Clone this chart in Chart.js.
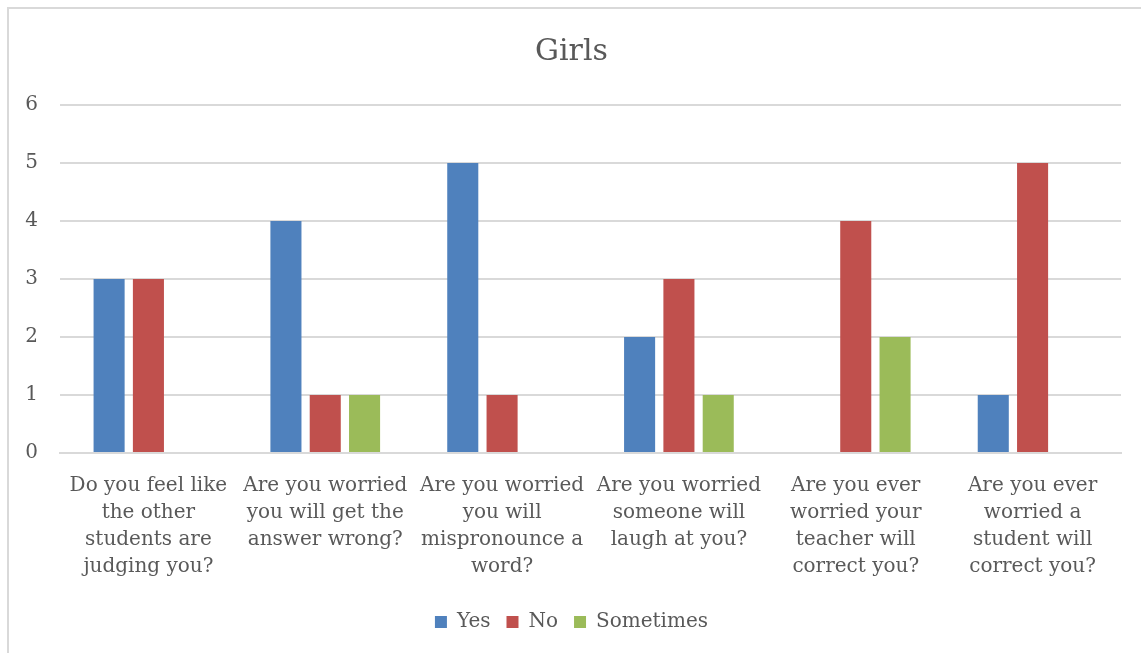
<!DOCTYPE html>
<html>
<head>
<meta charset="utf-8">
<script src="https://cdn.jsdelivr.net/npm/chart.js@4/dist/chart.umd.min.js"></script>
<style>
  html, body { margin: 0; padding: 0; background: #fff; overflow: hidden; }
  #frame { position: absolute; left: 7px; top: 7px; width: 1200px; height: 700px; border: 2px solid #d9d9d9; box-sizing: border-box; }
  #wrap { position: absolute; left: 0; top: 0; width: 1141px; height: 653px; }
</style>
</head>
<body>
<div id="frame"></div>
<div id="wrap"><canvas id="c" width="1141" height="653"></canvas></div>
<script>
const categories = [
  ["Do you feel like", "the other", "students are", "judging you?"],
  ["Are you worried", "you will get the", "answer wrong?"],
  ["Are you worried", "you will", "mispronounce a", "word?"],
  ["Are you worried", "someone will", "laugh at you?"],
  ["Are you ever", "worried your", "teacher will", "correct you?"],
  ["Are you ever", "worried a", "student will", "correct you?"]
];
const seriesNames = ["Yes", "No", "Sometimes"];
const yesValues = [3, 4, 5, 2, 0, 1];
const noValues = [3, 1, 1, 3, 4, 5];
const sometimesValues = [0, 1, 0, 1, 2, 0];
const yTicks = [0, 1, 2, 3, 4, 5, 6];
const colors = ["#4F81BD", "#C0504D", "#9BBB59"];

const FONT = "'DejaVu Serif', 'Liberation Serif', serif";
const TEXT = "#595959";

new Chart(document.getElementById('c'), {
  type: 'bar',
  data: {
    labels: categories,
    datasets: [yesValues, noValues, sometimesValues].map((vals, i) => ({
      label: seriesNames[i],
      data: vals,
      backgroundColor: colors[i],
      borderWidth: 0,
      categoryPercentage: 0.667,
      barPercentage: 0.79
    }))
  },
  options: {
    responsive: false,
    animation: false,
    layout: { padding: { top: 34, right: 20, left: 22, bottom: 11 } },
    plugins: {
      title: {
        display: true,
        text: 'Girls',
        color: TEXT,
        font: { family: FONT, size: 30, weight: 'normal' },
        padding: { top: 0, bottom: 35 }
      },
      legend: {
        position: 'bottom',
        labels: {
          color: TEXT,
          font: { family: FONT, size: 20 },
          boxWidth: 12,
          boxHeight: 12,
          padding: 16
        }
      },
      tooltip: { enabled: false }
    },
    scales: {
      x: {
        grid: { display: false },
        border: { display: true, color: '#d9d9d9', width: 2 },
        ticks: { color: TEXT, font: { family: FONT, size: 20, lineHeight: 1.35 }, padding: 11, maxRotation: 0, autoSkip: false },
        afterFit: (s) => { s.height = 143; }
      },
      y: {
        min: 0,
        max: 6,
        afterBuildTicks: (s) => { s.ticks = yTicks.map(v => ({ value: v })); },
        grid: { color: '#d9d9d9', lineWidth: 2, drawTicks: false },
        border: { display: false },
        ticks: { color: TEXT, font: { family: FONT, size: 20 }, padding: 22 },
        afterFit: (s) => { s.width = 38; }
      }
    }
  }
});
</script>
</body>
</html>
